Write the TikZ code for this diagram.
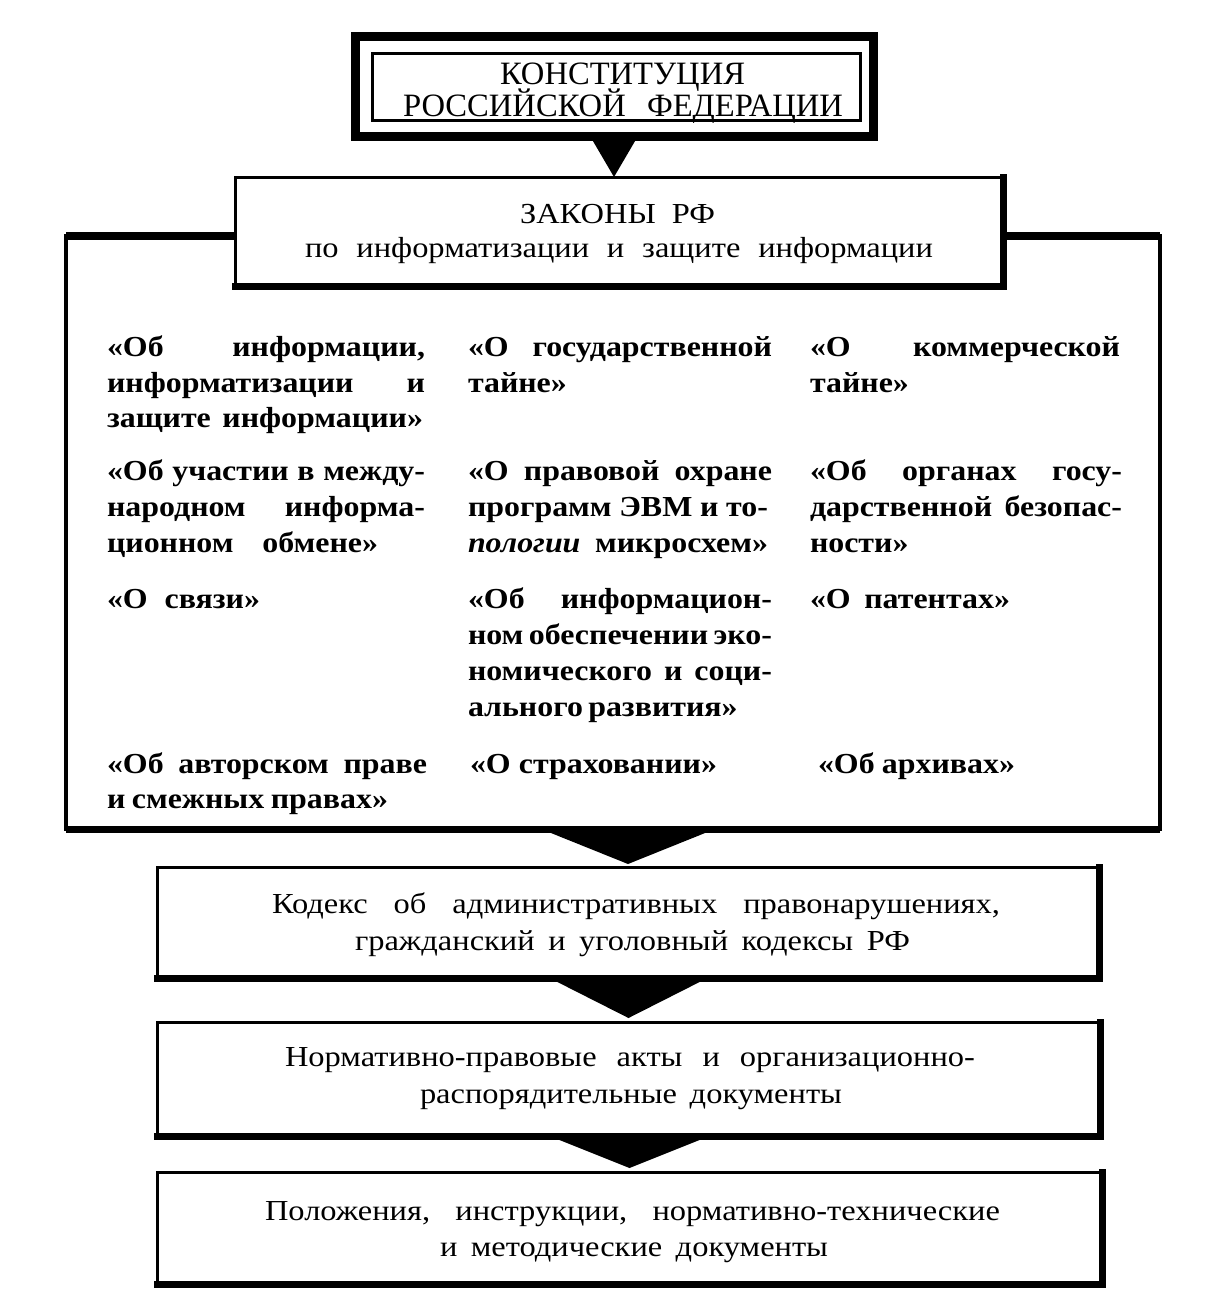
\documentclass[tikz,border=0pt]{standalone}
\usepackage{fontspec}
\setmainfont{Liberation Serif}
\newfontfamily\colfont[FakeStretch=1.1]{Liberation Serif}
\newfontfamily\boxfont[FakeStretch=1.12]{Liberation Serif}
\usetikzlibrary{fit,calc}
\newlength\upx
\setlength\upx{0.5pt}
\newcommand\tline[6][]{\node[txt,#1] (#2) at (#3,#4) {\makebox[#5\upx][s]{#6}};}
\begin{document}
\begin{tikzpicture}[x=0.5pt,y=-0.5pt,
  txt/.style={anchor=base west,inner sep=0pt,outer sep=0pt},
  col/.style={font=\colfont\fontsize{14.5}{16}\selectfont\bfseries},
  boxt/.style={font=\boxfont\fontsize{14.5}{16}\selectfont},
  ttl/.style={font=\fontsize{16.3}{18}\selectfont},
  area/.style={inner sep=0pt,outer sep=0pt},
  boxline/.style={line width=1.5pt},
  heavyline/.style={line width=3.5pt,line cap=rect},
  tip/.style={fill=black}]
\fill[white] (0,0) rectangle (1229,1302);
\useasboundingbox (0,0) rectangle (1229,1302);

% areas
\node[area,fit={(355,36) (873,136)}] (const) {};
\node[area,fit={(372,53) (860,120)}] (constin) {};
\node[area,fit={(235,177) (1003,286)}] (laws) {};
\node[area,fit={(66,236) (1160,829)}] (frame) {};
\node[area,fit={(157,867) (1099,978)}] (codex) {};
\node[area,fit={(157,1022) (1100,1136)}] (norm) {};
\node[area,fit={(157,1172) (1102,1284)}] (pol) {};

% constitution
\draw[line width=4.5pt] (const.north west) rectangle (const.south east);
\draw[boxline] (constin.north west) rectangle (constin.south east);

% big frame
\draw[line width=2pt] (frame.north west) rectangle (frame.south east);
\draw[line width=4pt] (frame.north west) -- (frame.north east);
\draw[line width=3.5pt] (frame.south west) -- (frame.south east);

% laws box
\fill[white] (laws.north west) rectangle (laws.south east);
\draw[boxline] (laws.north west) rectangle (laws.south east);
\draw[heavyline] (laws.north east) -- (laws.south east) -- (laws.south west);

% lower boxes
\foreach \b in {codex,norm,pol}{
  \draw[boxline] (\b.north west) rectangle (\b.south east);
  \draw[heavyline] (\b.north east) -- (\b.south east) -- (\b.south west);
}

% arrows
\fill[tip] ($(const.south)+(-24,0)$) -- ($(const.south)+(24,0)$) -- (const.south |- laws.north) -- cycle;
\fill[tip] ($(codex.north |- frame.south)+(-87,0)$) -- ($(codex.north |- frame.south)+(87,0)$) -- ($(codex.north)+(0,-3)$) -- cycle;
\fill[tip] ($(norm.north |- codex.south)+(-79,0)$) -- ($(norm.north |- codex.south)+(79,0)$) -- ($(norm.north)+(0,-4)$) -- cycle;
\fill[tip] ($(pol.north |- norm.south)+(-80,0)$) -- ($(pol.north |- norm.south)+(80,0)$) -- ($(pol.north)+(0,-4)$) -- cycle;

% texts in boxes
\tline[ttl]{t1}{500}{84}{245}{КОНСТИТУЦИЯ}
\tline[ttl]{t2}{403}{116}{440}{РОССИЙСКОЙ ФЕДЕРАЦИИ}
\tline[boxt]{l1}{520}{223}{195}{ЗАКОНЫ РФ}
\tline[boxt]{l2}{305}{257}{628}{по информатизации и защите информации}
\tline[boxt]{k1}{272}{913}{728}{Кодекс об административных правонарушениях,}
\tline[boxt]{k2}{355}{950}{555}{гражданский и уголовный кодексы РФ}
\tline[boxt]{n1}{285}{1066}{690}{Нормативно-правовые акты и организационно-}
\tline[boxt]{n2}{420}{1103}{422}{распорядительные документы}
\tline[boxt]{p1}{265}{1220}{735}{Положения, инструкции, нормативно-технические}
\tline[boxt]{p2}{440}{1256}{388}{и методические документы}

% columns, row 1
\tline[col]{a1}{107}{356}{318}{«Об информации,}
\tline[col]{a2}{107}{392}{318}{информатизации и}
\tline[col]{a3}{107}{427}{316}{защите информации»}
\tline[col]{b1}{468}{356}{304}{«О государственной}
\tline[col]{b2}{468}{392}{90}{тайне»}
\tline[col]{c1}{810}{356}{310}{«О коммерческой}
\tline[col]{c2}{810}{392}{95}{тайне»}
% row 2
\tline[col]{d1}{107}{480}{318}{«Об участии в между-}
\tline[col]{d2}{107}{516}{318}{народном информа-}
\tline[col]{d3}{107}{552}{271}{ционном обмене»}
\tline[col]{e1}{468}{480}{304}{«О правовой охране}
\tline[col]{e2}{468}{516}{300}{программ ЭВМ и то-}
\tline[col]{e3}{468}{552}{300}{\textit{пологии} микросхем»}
\tline[col]{f1}{810}{480}{312}{«Об органах госу-}
\tline[col]{f2}{810}{516}{312}{дарственной безопас-}
\tline[col]{f3}{810}{552}{100}{ности»}
% row 3
\tline[col]{g1}{107}{608}{153}{«О связи»}
\tline[col]{h1}{468}{608}{304}{«Об информацион-}
\tline[col]{h2}{468}{644}{304}{ном обеспечении эко-}
\tline[col]{h3}{468}{680}{304}{номического и соци-}
\tline[col]{h4}{468}{716}{257}{ального развития»}
\tline[col]{i1}{810}{608}{200}{«О патентах»}
% row 4
\tline[col]{j1}{107}{773}{320}{«Об авторском праве}
\tline[col]{j2}{107}{808}{281}{и смежных правах»}
\tline[col]{k4}{470}{773}{247}{«О страховании»}
\tline[col]{m1}{818}{773}{197}{«Об архивах»}
\end{tikzpicture}
\end{document}
